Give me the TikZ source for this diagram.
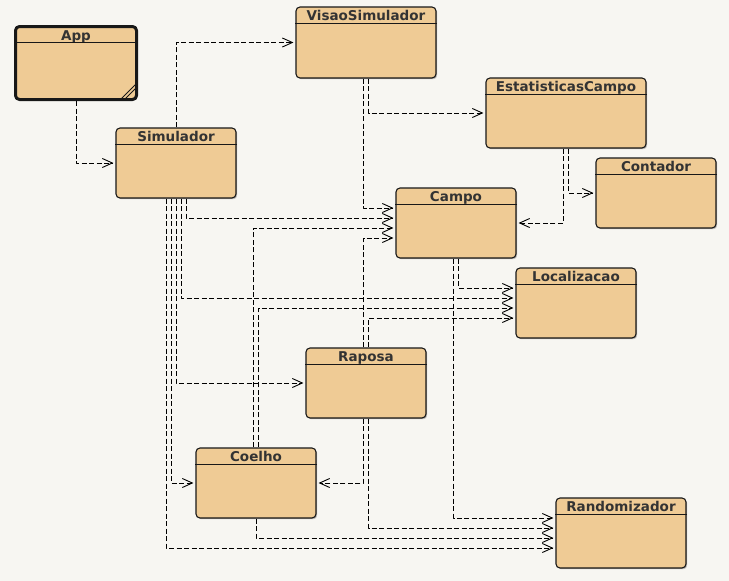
\documentclass[tikz,border=0pt]{standalone}
\usepackage{fontspec}
\setmainfont{DejaVu Sans}
\usetikzlibrary{arrows.meta}
\usetikzlibrary{shadows}
\definecolor{fundo}{RGB}{247,246,242}
\definecolor{corclasse}{RGB}{239,203,149}
\definecolor{borda}{RGB}{24,24,24}
\definecolor{texto}{RGB}{51,51,51}

\begin{document}
\begin{tikzpicture}[line join=round,x=1pt,y=-1pt,
  classe/.style={draw=borda,line width=1.1pt,fill=corclasse,rounded corners=4pt,inner sep=0pt,
    minimum width=120pt,minimum height=70pt,text height=13.5pt,text depth=56.5pt,
    text=texto,font=\fontsize{13.5}{15}\selectfont\bfseries,
    drop shadow={shadow xshift=1.2pt,shadow yshift=-1.2pt,opacity=0.25,fill=black}},
  dep/.style={draw=black,line width=0.9pt,dash pattern=on 5pt off 2.5pt,shorten >=2pt,
    -{Straight Barb[length=10pt,width=9pt]}}]
\useasboundingbox[fill=fundo] (0,0) rectangle (729,581);
% classes
\node[classe,line width=3pt,minimum width=121pt,minimum height=73pt,text depth=59.5pt] (app) at (76,63) {App};
\node[classe,minimum width=140pt,minimum height=71pt,text depth=57.5pt] (visao) at (366,42.5) {VisaoSimulador};
\node[classe] (sim) at (176,163) {Simulador};
\node[classe,minimum width=160pt] (est) at (566,113) {EstatisticasCampo};
\node[classe] (cont) at (656,193) {Contador};
\node[classe] (campo) at (456,223) {Campo};
\node[classe] (loc) at (576,303) {Localizacao};
\node[classe] (raposa) at (366,383) {Raposa};
\node[classe] (coelho) at (256,483) {Coelho};
\node[classe,minimum width=130pt] (rand) at (621,533) {Randomizador};
% linha do titulo
\foreach \n in {app,visao,sim,est,cont,campo,loc,raposa,coelho,rand}
  \draw[borda,line width=1pt] ([yshift=-17pt]\n.north west) -- ([yshift=-17pt]\n.north east);
% canto do App
\draw[borda,line width=0.8pt] ([xshift=-17pt,yshift=2pt]app.south east) -- ([xshift=-1.5pt,yshift=17.5pt]app.south east);
\draw[borda,line width=0.8pt] ([xshift=-13pt,yshift=2pt]app.south east) -- ([xshift=-1.5pt,yshift=13.5pt]app.south east);
% dependencias
\draw[dep] (app.south) |- (sim.west);
\draw[dep] (sim.north) |- (visao.west);
\draw[dep] ([xshift=2.5pt]visao.south) |- (est.west);
\draw[dep] ([xshift=-2.5pt]visao.south) |- ([yshift=15pt]campo.west);
\draw[dep] ([xshift=2.5pt]est.south) |- (cont.west);
\draw[dep] ([xshift=-2.5pt]est.south) |- (campo.east);
% Simulador
\draw[dep] ([xshift=10pt]sim.south) |- ([yshift=5pt]campo.west);
\draw[dep] ([xshift=5pt]sim.south) |- ([yshift=5pt]loc.west);
\draw[dep] (sim.south) |- (raposa.west);
\draw[dep] ([xshift=-5pt]sim.south) |- (coelho.west);
\draw[dep] ([xshift=-10pt]sim.south) |- ([yshift=-15pt]rand.west);
% Campo
\draw[dep] ([xshift=2.5pt]campo.south) |- ([yshift=15pt]loc.west);
\draw[dep] ([xshift=-2.5pt]campo.south) |- ([yshift=15pt]rand.west);
% Raposa
\draw[dep] ([xshift=-2.5pt]raposa.north) |- ([yshift=-15pt]campo.west);
\draw[dep] ([xshift=2.5pt]raposa.north) |- ([yshift=-15pt]loc.west);
\draw[dep] ([xshift=-2.5pt]raposa.south) |- (coelho.east);
\draw[dep] ([xshift=2.5pt]raposa.south) |- ([yshift=5pt]rand.west);
% Coelho
\draw[dep] ([xshift=-2.5pt]coelho.north) |- ([yshift=-5pt]campo.west);
\draw[dep] ([xshift=2.5pt]coelho.north) |- ([yshift=-5pt]loc.west);
\draw[dep] (coelho.south) |- ([yshift=-5pt]rand.west);
\end{tikzpicture}
\end{document}
